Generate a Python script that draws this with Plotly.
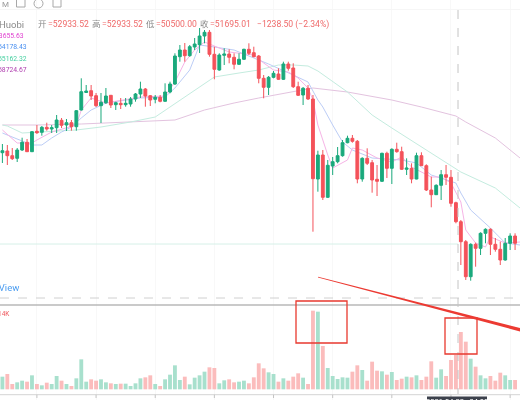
import plotly.graph_objects as go

# candles (left to right)
opens = [56311,56430,56101,55919,56500,57039,56381,57809,57739,58089,57970,58061,58579,58250,58411,58131,59300,60525,60651,60301,59601,59811,60329,59671,59769,59671,59720,60070,60420,60770,60301,60049,60189,59909,60560,61120,63031,63500,63101,63710,63871,64480,64739,63199,62100,63129,63220,62989,62499,62849,63549,63311,63080,61519,60889,61589,61820,61449,62520,62240,60931,60350,60819,60070,54470,56150,53189,55380,55681,56101,57011,57319,57109,54470,55919,55611,54449,54309,56269,55219,56549,56381,55149,55219,54470,56101,55401,53700,53371,54029,54771,54589,52811,51481,50081,47631,49899,49619,50669,50949,49899,49549,48800,49969,50480]
highs = [56920,56850,56640,56640,57361,57270,57830,58250,58180,58411,58250,58950,58740,58670,58600,59300,61519,61050,61050,60490,60490,60840,60350,59881,60140,60140,60210,60490,61281,60840,60350,60350,60350,61169,61281,63269,63850,63990,63850,64340,65040,64900,64900,63731,63269,63619,63549,63269,63269,63591,63969,63731,63150,61750,61680,62030,62219,62681,62681,62569,61281,60910,61050,60350,56451,56500,55800,56010,56710,57200,57501,57550,57200,55989,56619,55800,55450,56311,56381,56619,57011,56731,55919,55569,56311,56339,55499,54631,54099,55100,55450,55100,52881,51600,50200,49969,50011,50739,51019,51019,50340,50081,50340,50669,50669]
lows = [55590,55450,55800,55660,56430,56360,56360,57620,57501,57851,57690,57690,58040,57830,57851,57851,59265,60490,60000,59510,58390,59720,59440,59300,59370,59531,59531,59881,60140,59531,59580,59769,59839,59881,60469,61050,62681,62681,63031,63500,63290,63969,63031,61449,62051,62450,62569,62149,62450,62800,63150,62989,61169,60119,60350,61519,61400,61400,62051,60840,60280,59650,60000,50781,53581,53000,53140,54750,55569,56031,56969,57011,54169,54281,55450,53511,53280,54260,54540,54120,56311,55100,54750,54169,54449,55380,53630,52489,53350,53000,54050,52531,51369,48450,47400,47351,48331,49150,49969,49150,49381,48450,48751,49500,49500]
closes = [56451,56101,55891,56500,57039,56381,57781,57711,58089,57970,58061,58600,58229,58411,58131,59251,60581,60630,60280,59601,59839,60280,59650,59811,59671,59769,60070,60420,60770,60280,60000,60189,59909,60560,61120,63080,63500,63101,63731,63920,64480,64739,63199,62149,63150,63220,62989,62499,62849,63549,63269,63031,61519,60889,61589,61869,61449,62520,62219,60931,60329,60819,60070,54491,56150,53189,55429,55681,56101,57011,57319,57109,54470,55919,55569,54400,54309,56269,55219,56549,56381,55149,55240,54470,56101,55401,53700,53371,54029,54771,54589,52769,51481,50081,47631,49899,49619,50669,50949,49899,49549,48800,49969,50480,49969]
volumes = [38,46,16,21,26,23,42,16,12,20,16,40,26,16,10,33,90,23,30,26,30,21,18,16,17,17,10,18,33,36,42,16,10,30,44,72,28,38,15,35,42,53,66,64,18,27,30,21,23,26,18,36,78,63,51,46,23,33,26,38,48,35,16,236,233,130,64,40,31,36,35,53,72,58,26,83,56,54,44,52,28,32,38,36,42,28,38,84,35,60,40,88,103,172,143,92,68,42,33,40,26,50,42,28,28]

# moving averages, read at the bends of each line
ma5_i = [0,3,6,7,10,14,15,16,18,21,28,33,35,37,39,41,43,46,51,53,55,58,60,62,63,64,66,67,70,71,73,76,79,81,83,87,89,91,93,94,96,98,99,102,105]
ma5 = [57900,56990,56990,57200,57760,58110,58250,59300,60140,59790,60210,60280,61260,62660,63500,64060,63780,63360,63150,62590,62100,61960,61540,60840,60000,58250,56150,55240,55800,56640,56500,55940,55660,56010,55310,54610,54610,54190,52860,50900,49990,49710,50410,49990,50060]
ma10_i = [0,6,8,10,12,14,16,18,21,28,33,35,38,40,43,47,52,54,59,62,64,65,67,69,71,75,81,84,87,90,92,93,95,99,102,105]
ma10 = [57690,56850,56850,57340,57760,58110,58740,59300,59790,60140,60210,60840,62100,63850,63710,63500,62800,62520,61750,61260,60000,59510,58250,57060,56500,55940,55800,55590,54750,54400,54190,53490,52300,51040,49990,49850]
ma30_i = [0,1,4,15,20,26,31,37,43,48,52,56,59,62,64,70,75,79,86,93,100,105]
ma30 = [58250,58180,57690,57900,58110,58460,58810,60210,61610,61890,62100,62450,62450,62380,62030,60560,58950,58040,56500,54960,53840,52440]
ma60_i = [0,7,16,26,35,41,47,52,59,63,70,79,85,92,94,100,105]
ma60 = [58250,58250,58320,58460,58600,59300,59790,60140,60560,60840,60560,60000,59510,58880,58460,57340,55940]

tick_idx = [7,19,31,43,55,67,79,91,103]
ohlc_labels = ["开", "高", "低", "收"]
ohlc_values = ["=52933.52", "=52933.52", "=50500.00", "=51695.01"]
ma_labels = ["53655.63", "54178.43", "55162.32", "58724.67"]
ma_colors = ["#e040d0", "#4a90f0", "#45d0a0", "#b040b0"]

GREEN = "#1aa97c"
RED = "#f4525a"
W, H = 520, 400

def px(x):
    return x / W

def py(y):
    return 1 - y / H

idx = list(range(len(opens)))
vol_colors = ["#a8e0cd" if c >= o else "#fbbcbc" for o, c in zip(opens, closes)]

fig = go.Figure()
for xs, ys, col in [(ma60_i, ma60, "#e3c3df"), (ma30_i, ma30, "#c4ecdf"),
                    (ma10_i, ma10, "#bccdf6"), (ma5_i, ma5, "#f6b4e6")]:
    fig.add_trace(go.Scatter(x=xs, y=ys, mode="lines", line=dict(color=col, width=1), yaxis="y"))
fig.add_trace(go.Bar(x=idx, y=volumes, marker=dict(color=vol_colors, line_width=0), width=0.78, yaxis="y2"))
fig.add_trace(go.Candlestick(
    x=idx, open=opens, high=highs, low=lows, close=closes, yaxis="y3", whiskerwidth=0,
    increasing=dict(line=dict(color=GREEN, width=1), fillcolor=GREEN),
    decreasing=dict(line=dict(color=RED, width=1), fillcolor=RED)))

shapes = []
def seg(x0, y0, x1, y1, color, width=1, dash="solid"):
    shapes.append(dict(type="line", xref="paper", yref="paper", x0=px(x0), x1=px(x1), y0=py(y0), y1=py(y1),
                       line=dict(color=color, width=width, dash=dash)))

seg(0, 9.5, 520, 9.5, "#f6f6f6")
seg(0, 244, 458, 244, "#d6f0e8")
seg(0, 298, 520, 298, "#d0d0d0", 1, "dash")
seg(0, 305, 520, 305, "#b9b9b9", 1.4)
seg(0, 394.7, 520, 394.7, "#d4d4d4")
seg(458, 10, 458, 394, "#c4c4c4", 1, "dash")
for t in tick_idx:
    shapes.append(dict(type="line", xref="x", yref="paper", x0=t, x1=t, y0=py(394.7), y1=py(398),
                       line=dict(color="#c4c4c4", width=1)))
# hand drawn red marks
for x0, y0, x1, y1 in [(296, 301, 347, 343), (445, 318, 477, 354)]:
    shapes.append(dict(type="rect", xref="paper", yref="paper", x0=px(x0), x1=px(x1), y0=py(y0), y1=py(y1),
                       line=dict(color="#e8392f", width=1.3)))
path = "M %f %f L %f %f L %f %f L %f %f Z" % (px(318), py(276.8), px(520), py(328), px(520), py(331.5), px(318), py(277.4))
shapes.append(dict(type="path", xref="paper", yref="paper", path=path, fillcolor="#ec3a32", line_width=0))
# toolbar icons and date box
for x0, x1 in [(16.5, 25), (53, 61)]:
    shapes.append(dict(type="rect", xref="paper", yref="paper", x0=px(x0), x1=px(x1), y0=py(-1), y1=py(7),
                       line=dict(color="#a8a8a8", width=1)))
shapes.append(dict(type="circle", xref="paper", yref="paper", x0=px(34), x1=px(43), y0=py(-1), y1=py(8),
                   line=dict(color="#a8a8a8", width=1)))
shapes.append(dict(type="rect", xref="paper", yref="paper", x0=px(427), x1=px(487), y0=py(396.5), y1=py(402),
                   fillcolor="#3c414c", line_width=0))

ann = []
def label(x, y, text, color, size=8.5, anchor="left"):
    ann.append(dict(xref="paper", yref="paper", x=px(x), y=py(y), text=text, showarrow=False, xanchor=anchor,
                    yanchor="middle", font=dict(color=color, size=size, family="Roboto, 'Noto Sans CJK SC'")))

label(26, 24, "Huobi", "#8a8a8a", 9.5, "right")
for x, lab, val in zip([36, 90, 144, 198], ohlc_labels, ohlc_values):
    label(x, 24, lab, "#8a8a8a", 8.5)
    label(x + 10, 24, val, "#ef6a6a", 8.6)
label(254.5, 24, "−1238.50 (−2.34%)", "#ef6a6a", 8.6)
for x, y, txt, col in zip([26, 29, 29, 29], [35.5, 47, 58.5, 70], ma_labels, ma_colors):
    label(x, y, txt, col, 6.8, "right")
label(21, 287, "TradingView", "#4a9cf0", 9.5, "right")
label(12, 314, "14K", "#ef5a60", 6.5, "right")
label(5, 4, "M", "#9a9a9a", 8, "center")
label(457, 401, "2021-04-22 · 04:00", "#ffffff", 7.5, "center")

fig.update_layout(
    width=W, height=H, margin=dict(l=0, r=0, t=0, b=0), autosize=False, boxgap=0.18,
    paper_bgcolor="#ffffff", plot_bgcolor="#ffffff", showlegend=False, shapes=shapes, annotations=ann,
    xaxis=dict(range=[-0.487, 105], tickvals=tick_idx, showticklabels=False, ticks="", gridcolor="#f8f8f8",
               zeroline=False, rangeslider=dict(visible=False)),
    yaxis=dict(range=[39000, 67000], visible=False),
    yaxis2=dict(range=[-32, 1168], visible=False, overlaying="y"),
    yaxis3=dict(range=[39000, 67000], visible=False, overlaying="y"),
)

# the page's default body margin would push the chart 8px in; the reference is also a soft, blurry screenshot
fig.write_html("out.html", config={"displayModeBar": False},
               post_script="document.body.style.margin='0';document.body.style.overflow='hidden';"
                           "document.body.style.filter='blur(0.45px)';")
